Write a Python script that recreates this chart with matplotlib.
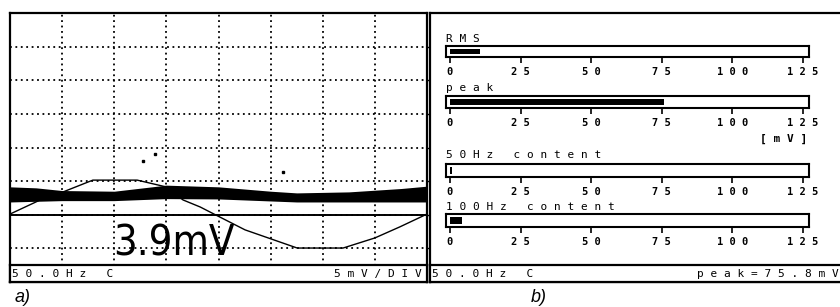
import matplotlib.pyplot as plt

W, H = 840, 307

# --- scope trace (a), in divisions: x 0..8, y -4..4 ---
sine_x = [0, 0.58, 1.02, 1.59, 2.44, 2.99, 3.32, 3.65, 3.99, 4.51, 5.01, 5.51, 6.39, 7.00, 7.48, 8.0]
sine_y = [-1.98, -1.56, -1.32, -0.97, -0.97, -1.17, -1.56, -1.77, -2.04, -2.45, -2.72, -2.99, -2.99, -2.69, -2.36, -1.98]
band_x = [0, 0.5, 1, 2, 3, 4, 5, 5.5, 6.5, 7.5, 8]
band_top = [-1.17, -1.20, -1.28, -1.30, -1.12, -1.17, -1.30, -1.35, -1.32, -1.22, -1.15]
band_bot = [-1.62, -1.60, -1.58, -1.58, -1.52, -1.53, -1.59, -1.62, -1.62, -1.62, -1.62]
speck_x = [2.55, 2.78, 5.24]
speck_y = [-0.40, -0.19, -0.73]
reading = "3.9mV"
status_left = ["5 0 . 0 H z   C", "5 m V / D I V"]
status_right = ["5 0 . 0 H z   C", "p e a k = 7 5 . 8 m V"]

# --- bar meters (b) ---
meter_names = ["R M S", "p e a k", "5 0 H z   c o n t e n t", "1 0 0 H z   c o n t e n t"]
meter_values = [10.8, 75.8, 0.6, 4.2]
meter_ticks = [0, 25, 50, 75, 100, 125]
tick_labels = ["0", "2 5", "5 0", "7 5", "1 0 0", "1 2 5"]
unit_label = "[ m V ]"

# pixel layout of the meters (top, bottom of frame; label baseline)
meter_rows = [(46, 57, 42), (96, 108, 91), (164, 177, 158), (214, 227, 210)]


def box(l, t, r, b):
    return [l / W, 1 - b / H, (r - l) / W, (b - t) / H]


mono = "DejaVu Sans Mono"
fig = plt.figure(figsize=(8.4, 3.07), dpi=100)

# scope screen
ax = fig.add_axes(box(10, 13, 427, 282))
ax.set_xlim(0, 8)
ax.set_ylim(-4, 4)
ax.set_xticks(range(1, 8))
ax.set_yticks(range(-3, 4))
ax.grid(True, color="black", linestyle=(0, (1, 2)), linewidth=1.3)
ax.tick_params(left=False, bottom=False, labelleft=False, labelbottom=False,
               right=True, direction="out", length=2, width=1)
for s in ax.spines.values():
    s.set_linewidth(1.6)
ax.axhline(-2, color="black", linewidth=1.4)
ax.fill_between(band_x, band_bot, band_top, color="black", linewidth=0)
ax.plot(sine_x, sine_y, color="black", linewidth=1.0)
ax.plot(speck_x, speck_y, "s", color="black", markersize=1.5)
ax.text(1.98, -3.22, reading, fontsize=30, family=["Liberation Sans Narrow", "DejaVu Sans"],
        fontstretch="condensed", fontweight="medium", ha="left", va="baseline", zorder=5)

# right panel frame
axb = fig.add_axes(box(430, 13, 846, 282))
axb.set_xticks([])
axb.set_yticks([])
for s in axb.spines.values():
    s.set_linewidth(1.6)

# status bars
for rect, texts in [((10, 265, 427, 282), status_left), ((430, 265, 846, 282), status_right)]:
    sa = fig.add_axes(box(*rect))
    sa.set_zorder(4)
    sa.set_facecolor("white")
    sa.set_xticks([])
    sa.set_yticks([])
    for s in sa.spines.values():
        s.set_linewidth(1.6)
    width = rect[2] - rect[0]
    sa.text(2.5 / width, 0.45, texts[0], family=mono, fontsize=8, ha="left", va="center",
            transform=sa.transAxes)
    right_px = 422 if rect[0] == 10 else 839
    sa.text((right_px - rect[0]) / width, 0.45, texts[1], family=mono, fontsize=8,
            ha="right", va="center", transform=sa.transAxes, clip_on=False)

# meters
for name, val, (top, bot, lab) in zip(meter_names, meter_values, meter_rows):
    m = fig.add_axes(box(446, top, 809, bot))
    m.set_zorder(3)
    m.set_facecolor("white")
    m.set_xlim(-1.4, 127.1)
    m.set_ylim(0, 1)
    m.barh(0.5, val, height=0.48, left=0, color="black")
    m.set_yticks([])
    m.set_xticks(meter_ticks)
    m.set_xticklabels(tick_labels, family=mono, fontsize=7.5, fontweight="bold")
    m.tick_params(axis="x", direction="out", length=4.5, width=1.2, pad=3)
    for s in m.spines.values():
        s.set_linewidth(1.5)
    fig.text(446 / W, 1 - lab / H, name, family=mono, fontsize=8, ha="left", va="baseline")

fig.text(807 / W, 1 - 142 / H, unit_label, family=mono, fontsize=8, fontweight="bold",
         ha="right", va="baseline")

# panel captions
fig.text(15 / W, 1 - 302 / H, "a)", fontsize=13, style="italic", family="Liberation Sans",
         ha="left", va="baseline")
fig.text(531 / W, 1 - 302 / H, "b)", fontsize=13, style="italic", family="Liberation Sans",
         ha="left", va="baseline")

fig.savefig("out.png", dpi=100)
